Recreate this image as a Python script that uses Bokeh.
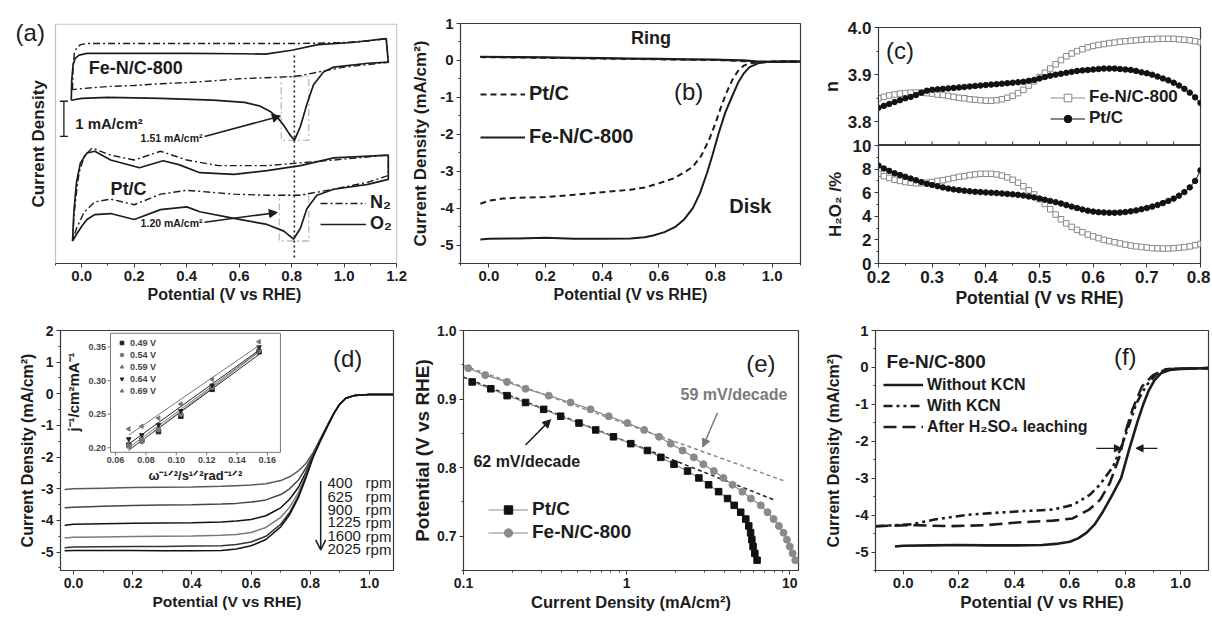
import numpy as np
from bokeh.plotting import figure
from bokeh.layouts import row, column
from bokeh.models import (Range1d, FixedTicker, CustomJSTickFormatter, Label, Title,
                          Arrow, NormalHead, OpenHead, TeeHead, Legend, LegendItem, BoxAnnotation)
from bokeh.core.properties import value
from bokeh.embed import file_html
from bokeh.resources import INLINE

FONT = "Liberation Sans"
INK = "#1c1c1c"
OUT = "#3a3a3a"

# ---------------- (a) cyclic voltammograms (offset, mA/cm^2) ----------------
a_xticks = [0.0, 0.2, 0.4, 0.6, 0.8, 1.0, 1.2]
fe_n2_x = [-0.035, -0.033, -0.028, -0.02, -0.005, 0.02, 0.2, 0.4, 0.6, 0.8, 0.9, 1.0, 1.1, 1.16,
           1.168, 1.1, 1.0, 0.9, 0.85, 0.8, 0.7, 0.6, 0.5, 0.4, 0.3, 0.2, 0.1, 0.0, -0.035]
fe_n2_y = [4.94, 5.64, 5.97, 6.12, 6.22, 6.25, 6.25, 6.25, 6.25, 6.25, 6.26, 6.28, 6.33, 6.39,
           5.72, 5.66, 5.58, 5.44, 5.36, 5.31, 5.28, 5.25, 5.19, 5.14, 5.11, 5.06, 5.03, 4.97, 4.94]
fe_o2_x = [-0.04, -0.038, -0.033, -0.025, -0.01, 0.02, 0.2, 0.4, 0.6, 0.7, 0.8, 0.9, 1.03, 1.16,
           1.168, 1.09, 0.96, 0.921, 0.883, 0.858, 0.833, 0.81, 0.79, 0.77, 0.75, 0.72, 0.68, 0.62,
           0.5, 0.3, 0.1, 0.0, -0.04]
fe_o2_y = [4.64, 5.22, 5.64, 5.83, 5.92, 5.97, 5.97, 5.97, 5.96, 5.95, 6.06, 6.22, 6.28, 6.39,
           5.72, 5.69, 5.58, 5.44, 5.08, 4.53, 3.89, 3.5, 3.69, 3.92, 4.11, 4.31, 4.47, 4.58,
           4.64, 4.69, 4.72, 4.69, 4.64]
pt_n2_x = [-0.035, -0.03, -0.02, -0.01, 0.01, 0.04, 0.11, 0.2, 0.3, 0.4, 0.52, 0.706, 0.83, 0.96, 1.168,
           1.168, 1.09, 0.96, 0.83, 0.706, 0.58, 0.4, 0.3, 0.2, 0.11, 0.05, 0.01, -0.02, -0.035]
pt_n2_y = [0.64, 1.33, 2.03, 2.58, 3.06, 3.28, 3.08, 2.94, 3.19, 2.94, 2.78, 2.78, 2.86, 2.94, 3.08,
           2.5, 2.31, 2.11, 1.94, 1.94, 1.97, 2.08, 1.97, 1.67, 1.83, 1.75, 1.47, 1.0, 0.64]
pt_o2_x = [-0.035, -0.03, -0.02, -0.005, 0.02, 0.05, 0.11, 0.22, 0.31, 0.37, 0.45, 0.58, 0.706, 0.833,
           0.96, 1.168, 1.168, 1.09, 0.96, 0.896, 0.858, 0.833, 0.807, 0.77, 0.706, 0.58, 0.45, 0.4,
           0.3, 0.2, 0.11, 0.05, 0.02, 0.0, -0.02, -0.035]
pt_o2_y = [0.64, 1.47, 2.31, 2.86, 3.14, 3.19, 2.94, 2.72, 2.92, 2.81, 2.58, 2.53, 2.64, 2.78,
           3.0, 3.08, 2.39, 2.25, 2.11, 1.94, 1.56, 1.0, 0.69, 0.92, 1.11, 1.28, 1.47, 1.61,
           1.53, 1.25, 1.42, 1.39, 1.25, 1.06, 0.83, 0.64]

# ---------------- (b) RRDE ----------------
b_xticks = [0.0, 0.2, 0.4, 0.6, 0.8, 1.0]
b_yticks = [-5, -4, -3, -2, -1, 0, 1]
ring_x = [-0.03, 0.1, 0.2, 0.3, 0.4, 0.5, 0.6, 0.7, 0.8, 0.85, 0.9, 0.95, 1.0, 1.05, 1.1]
ring_fe = [0.10, 0.09, 0.08, 0.07, 0.06, 0.05, 0.04, 0.03, 0.02, 0.01, 0.0, -0.03, -0.04, -0.03, -0.03]
ring_pt = [0.09, 0.08, 0.07, 0.06, 0.05, 0.04, 0.03, 0.02, 0.01, 0.0, -0.02, -0.05, -0.04, -0.03, -0.03]
disk_pt_x = [-0.03, 0.0, 0.05, 0.1, 0.2, 0.3, 0.4, 0.5, 0.55, 0.6, 0.65, 0.69, 0.72, 0.75, 0.78, 0.8,
             0.82, 0.84, 0.86, 0.88, 0.9, 0.92, 0.95, 1.0, 1.05, 1.1]
disk_pt_y = [-3.88, -3.8, -3.74, -3.72, -3.7, -3.64, -3.57, -3.5, -3.44, -3.33, -3.2, -3.03, -2.88, -2.58,
             -2.1, -1.7, -1.25, -0.85, -0.52, -0.28, -0.14, -0.08, -0.05, -0.03, -0.03, -0.03]
disk_fe_x = [-0.03, 0.0, 0.1, 0.2, 0.3, 0.4, 0.5, 0.55, 0.58, 0.62, 0.66, 0.69, 0.72, 0.745, 0.77, 0.79,
             0.81, 0.835, 0.86, 0.88, 0.9, 0.92, 0.95, 0.98, 1.02, 1.1]
disk_fe_y = [-4.85, -4.83, -4.82, -4.8, -4.83, -4.83, -4.82, -4.79, -4.74, -4.65, -4.5, -4.3, -4.0, -3.6,
             -3.05, -2.55, -2.0, -1.4, -0.95, -0.6, -0.35, -0.18, -0.08, -0.04, -0.03, -0.03]

# ---------------- (c) n and H2O2 ----------------
c_xticks = [0.2, 0.3, 0.4, 0.5, 0.6, 0.7, 0.8]
n_ticks = [3.8, 3.9, 4.0]
h_ticks = [0, 2, 4, 6, 8, 10]
c_x = [round(0.20 + 0.01 * i, 2) for i in range(61)]
fe_n = [3.850, 3.853, 3.856, 3.858, 3.860, 3.861, 3.862, 3.862, 3.862, 3.861,
        3.860, 3.858, 3.857, 3.855, 3.853, 3.851, 3.850, 3.848, 3.847, 3.846,
        3.845, 3.845, 3.846, 3.848, 3.851, 3.855, 3.861, 3.868, 3.877, 3.886,
        3.895, 3.904, 3.913, 3.922, 3.931, 3.939, 3.945, 3.950, 3.954, 3.958,
        3.961, 3.963, 3.965, 3.967, 3.968, 3.970, 3.971, 3.972, 3.973, 3.974,
        3.975, 3.975, 3.976, 3.976, 3.976, 3.976, 3.975, 3.974, 3.973, 3.971, 3.969]
pt_n = [3.830, 3.834, 3.838, 3.842, 3.846, 3.850, 3.853, 3.857, 3.862, 3.866,
        3.868, 3.869, 3.870, 3.871, 3.872, 3.873, 3.874, 3.875, 3.876, 3.877,
        3.878, 3.879, 3.880, 3.881, 3.882, 3.883, 3.884, 3.885, 3.887, 3.889,
        3.892, 3.895, 3.898, 3.900, 3.902, 3.904, 3.906, 3.908, 3.909, 3.910,
        3.911, 3.912, 3.913, 3.913, 3.913, 3.912, 3.911, 3.910, 3.908, 3.905,
        3.903, 3.900, 3.896, 3.892, 3.888, 3.883, 3.877, 3.870, 3.862, 3.852, 3.840]
fe_h = [7.6, 7.4, 7.25, 7.1, 7.0, 6.9, 6.85, 6.8, 6.8, 6.85,
        6.9, 7.0, 7.05, 7.15, 7.25, 7.35, 7.4, 7.5, 7.55, 7.6,
        7.6, 7.6, 7.55, 7.45, 7.3, 7.1, 6.85, 6.55, 6.2, 5.85,
        5.45, 5.05, 4.6, 4.15, 3.75, 3.4, 3.1, 2.85, 2.65, 2.45,
        2.3, 2.15, 2.0, 1.9, 1.8, 1.7, 1.6, 1.52, 1.45, 1.4,
        1.35, 1.3, 1.28, 1.27, 1.27, 1.3, 1.33, 1.38, 1.45, 1.55, 1.65]
pt_h = [8.3, 8.05, 7.85, 7.65, 7.5, 7.35, 7.2, 7.05, 6.9, 6.75,
        6.65, 6.55, 6.45, 6.35, 6.28, 6.22, 6.17, 6.12, 6.08, 6.05,
        6.02, 6.0, 5.97, 5.93, 5.9, 5.86, 5.82, 5.76, 5.68, 5.6,
        5.5, 5.4, 5.3, 5.2, 5.08, 4.95, 4.82, 4.7, 4.58, 4.48,
        4.4, 4.35, 4.32, 4.3, 4.3, 4.32, 4.36, 4.42, 4.5, 4.6,
        4.7, 4.82, 4.96, 5.12, 5.3, 5.5, 5.75, 6.05, 6.45, 7.0, 7.9]

# ---------------- (d) rotating speeds ----------------
d_xticks = [0.0, 0.2, 0.4, 0.6, 0.8, 1.0]
d_yticks = [-5, -4, -3, -2, -1, 0, 1, 2]
rpm = ["400", "625", "900", "1225", "1600", "2025"]
rpm_label_y = [-2.81, -3.25, -3.66, -4.06, -4.5, -4.91]
d_x = [-0.03, 0.0, 0.1, 0.2, 0.3, 0.4, 0.5, 0.55, 0.6, 0.65, 0.7, 0.73, 0.76, 0.785, 0.81, 0.835,
       0.86, 0.88, 0.9, 0.92, 0.95, 1.0, 1.08]
d_curves = [
    [-3.02, -3.0, -2.98, -2.96, -2.95, -2.94, -2.92, -2.9, -2.88, -2.84, -2.74, -2.62, -2.43, -2.2, -1.85,
     -1.4, -0.95, -0.6, -0.32, -0.14, -0.05, -0.02, -0.02],
    [-3.6, -3.58, -3.55, -3.53, -3.51, -3.5, -3.48, -3.46, -3.42, -3.35, -3.18, -3.0, -2.72, -2.35, -1.9,
     -1.42, -0.96, -0.6, -0.32, -0.14, -0.05, -0.02, -0.02],
    [-4.15, -4.12, -4.1, -4.09, -4.08, -4.07, -4.05, -4.02, -3.97, -3.85, -3.6, -3.33, -2.95, -2.48, -1.93,
     -1.44, -0.97, -0.61, -0.32, -0.14, -0.05, -0.02, -0.02],
    [-4.55, -4.53, -4.52, -4.51, -4.5, -4.49, -4.47, -4.44, -4.38, -4.22, -3.9, -3.58, -3.12, -2.56, -1.95,
     -1.45, -0.98, -0.61, -0.32, -0.14, -0.05, -0.02, -0.02],
    [-4.86, -4.84, -4.83, -4.82, -4.82, -4.81, -4.8, -4.76, -4.68, -4.5, -4.12, -3.75, -3.22, -2.62, -1.97,
     -1.46, -0.98, -0.61, -0.32, -0.14, -0.05, -0.02, -0.02],
    [-4.96, -4.95, -4.95, -4.95, -4.96, -4.96, -4.95, -4.9, -4.8, -4.6, -4.2, -3.82, -3.27, -2.66, -1.99,
     -1.47, -0.99, -0.62, -0.32, -0.14, -0.05, -0.02, -0.02],
]
d_colors = ["#5a5a5a", "#444444", "#111111", "#7a7a7a", "#333333", "#111111"]
# inset: Koutecky-Levich
kl_x = [0.0687, 0.0773, 0.0883, 0.1030, 0.1236, 0.1545]
kl_labels = ["0.49 V", "0.54 V", "0.59 V", "0.64 V", "0.69 V"]
kl_y = [
    [0.204, 0.211, 0.224, 0.247, 0.287, 0.343],
    [0.202, 0.209, 0.227, 0.250, 0.290, 0.345],
    [0.206, 0.214, 0.230, 0.252, 0.291, 0.347],
    [0.213, 0.219, 0.234, 0.255, 0.293, 0.350],
    [0.228, 0.232, 0.244, 0.265, 0.302, 0.358],
]
kl_markers = ["square", "circle", "triangle", "inverted_triangle", "triangle"]
kl_angles = [0, 0, 0, 0, np.pi / 2]
kl_colors = ["#222222", "#777777", "#777777", "#222222", "#777777"]
inset_xticks = [0.06, 0.08, 0.10, 0.12, 0.14, 0.16]
inset_xlabels = ["0.06", "0.08", "0.10", "0.12", "0.14", "0.16"]
inset_yticks = [0.20, 0.25, 0.30, 0.35]
inset_ylabels = ["0.20", "0.25", "0.30", "0.35"]

# ---------------- (e) Tafel ----------------
e_xticks = [0.1, 1, 10]
e_yticks = [0.7, 0.8, 0.9, 1.0]
tafel_pt_x = [0.113, 0.147, 0.185, 0.24, 0.31, 0.394, 0.51, 0.646, 0.83, 1.06, 1.34, 1.62, 1.95, 2.36,
              2.77, 3.18, 3.66, 4.15, 4.56, 5.0, 5.37, 5.6, 5.75, 5.85, 5.95, 6.1, 6.3]
tafel_pt_y = [0.925, 0.915, 0.905, 0.895, 0.885, 0.875, 0.865, 0.855, 0.845, 0.835, 0.825, 0.815, 0.805,
              0.795, 0.785, 0.775, 0.765, 0.755, 0.745, 0.735, 0.725, 0.715, 0.705, 0.695, 0.685, 0.675, 0.665]
tafel_fe_x = [0.107, 0.136, 0.185, 0.24, 0.333, 0.453, 0.60, 0.776, 1.01, 1.28, 1.58, 1.86, 2.2, 2.58,
              2.95, 3.42, 3.92, 4.45, 5.12, 5.77, 6.64, 7.3, 7.95, 8.57, 9.15, 9.6, 10.0, 10.4, 10.8]
tafel_fe_y = [0.945, 0.935, 0.925, 0.915, 0.905, 0.895, 0.885, 0.875, 0.865, 0.855, 0.845, 0.835, 0.825,
              0.815, 0.805, 0.795, 0.785, 0.775, 0.765, 0.755, 0.745, 0.735, 0.725, 0.715, 0.705, 0.695,
              0.685, 0.675, 0.665]
fit_pt_x, fit_pt_y = [0.1, 8.2], [0.932, 0.752]
fit_fe_x, fit_fe_y = [0.1, 9.4], [0.949, 0.780]

# ---------------- (f) poisoning ----------------
f_xticks = [0.0, 0.2, 0.4, 0.6, 0.8, 1.0]
f_yticks = [-5, -4, -3, -2, -1, 0, 1]
wo_x = [-0.03, 0.0, 0.1, 0.2, 0.3, 0.4, 0.5, 0.55, 0.6, 0.63, 0.66, 0.69, 0.72, 0.75, 0.785, 0.815, 0.845,
        0.865, 0.885, 0.905, 0.93, 0.96, 1.0, 1.05, 1.1]
wo_y = [-4.85, -4.83, -4.82, -4.81, -4.82, -4.82, -4.81, -4.78, -4.72, -4.63, -4.48, -4.25, -3.9, -3.5,
        -3.0, -2.2, -1.45, -1.0, -0.62, -0.35, -0.15, -0.07, -0.04, -0.03, -0.02]
kcn_x = [-0.1, 0.03, 0.113, 0.232, 0.41, 0.54, 0.613, 0.672, 0.708, 0.756, 0.786, 0.815, 0.839, 0.875,
         0.911, 0.946, 1.0, 1.1]
kcn_y = [-4.30, -4.25, -4.12, -3.99, -3.90, -3.85, -3.72, -3.45, -3.18, -2.69, -2.15, -1.53, -0.99, -0.50,
         -0.19, -0.05, -0.03, -0.02]
acid_x = [-0.1, 0.03, 0.17, 0.3, 0.41, 0.54, 0.61, 0.67, 0.71, 0.745, 0.78, 0.8, 0.826, 0.86, 0.9, 0.946,
          1.0, 1.1]
acid_y = [-4.30, -4.27, -4.3, -4.27, -4.2, -4.15, -4.09, -3.85, -3.58, -3.12, -2.4, -1.77, -1.14, -0.52,
          -0.21, -0.05, -0.03, -0.02]


# ---------------- helpers ----------------
FMT1 = "return tick.toFixed(1);"
FMT0 = "return tick.toFixed(0);"


def make_fig(w, h, xr, yr, borders, x_type="linear", x_loc="below", y_loc="left"):
    l, r, t, b = borders
    p = figure(width=w, height=h, x_range=Range1d(*xr), y_range=Range1d(*yr), x_axis_type=x_type,
               output_backend="svg", toolbar_location=None, x_axis_location=x_loc, y_axis_location=y_loc,
               min_border_left=l, min_border_right=r, min_border_top=t, min_border_bottom=b)
    p.xgrid.visible = False
    p.ygrid.visible = False
    p.outline_line_color = OUT
    p.outline_line_width = 1.2
    p.background_fill_color = "white"
    p.border_fill_color = "white"
    return p


def style_axis(ax, label, ticks, minors, code, tick_fs, lab_fs, lab_standoff=2):
    ax.axis_label = label
    ax.ticker = FixedTicker(ticks=ticks, minor_ticks=minors)
    ax.formatter = CustomJSTickFormatter(code=code)
    ax.axis_label_text_font = FONT
    ax.axis_label_text_font_style = "bold"
    ax.axis_label_text_font_size = f"{lab_fs}px"
    ax.axis_label_text_color = INK
    ax.axis_label_standoff = lab_standoff
    ax.major_label_text_font = FONT
    ax.major_label_text_font_style = "bold"
    ax.major_label_text_font_size = f"{tick_fs}px"
    ax.major_label_text_color = INK
    ax.major_label_standoff = 3
    ax.major_tick_out = 4
    ax.major_tick_in = 0
    ax.minor_tick_out = 2
    ax.minor_tick_in = 0
    ax.axis_line_color = OUT
    ax.major_tick_line_color = OUT
    ax.minor_tick_line_color = OUT


def label(p, x, y, text, fs, bold=True, align="left", color=INK, angle=0, baseline="middle"):
    p.add_layout(Label(x=x, y=y, text=text, text_font=FONT, text_font_size=f"{fs}px",
                       text_font_style="bold" if bold else "normal", text_align=align,
                       text_baseline=baseline, text_color=color, angle=angle))


def arrow(p, x0, y0, x1, y1, color=INK, head=8, width=1.5, open_head=False):
    if open_head:
        end = OpenHead(size=head, line_color=color, line_width=width)
    else:
        end = NormalHead(size=head, fill_color=color, line_color=color)
    p.add_layout(Arrow(end=end, x_start=x0, y_start=y0, x_end=x1, y_end=y1,
                       line_color=color, line_width=width))


def add_legend(p, items, loc, fs, gw, lh, sp, standoff=4, color=INK):
    leg = Legend(items=[LegendItem(label=l, renderers=r) for l, r in items], location=loc,
                 label_text_font=FONT, label_text_font_size=f"{fs}px", label_text_font_style="bold",
                 label_text_color=color, glyph_width=gw, glyph_height=lh, label_height=lh, spacing=sp,
                 padding=0, margin=0, border_line_alpha=0, background_fill_alpha=0,
                 label_standoff=standoff)
    p.add_layout(leg)


def minors_between(ticks):
    return [round((a + b) / 2, 4) for a, b in zip(ticks[:-1], ticks[1:])]


DASHDOT = "7 3 2 3"

# ================= (a) =================
# frame extended to the left so that the panel tag and the y title can sit beside the box
fa = make_fig(408, 310, (-0.2905, 1.203), (0, 6.82), (5, 11, 18, 47), y_loc=None)
fa.outline_line_color = None
style_axis(fa.xaxis[0], "", a_xticks, minors_between(a_xticks) + [-0.1], FMT1, 15, 16)
fa.xaxis[0].bounds = (-0.1, 1.2)
fa.add_layout(Title(text="Potential (V vs RHE)", align="left", offset=142, text_font=FONT,
                    text_font_size="16px", text_font_style="bold", text_color=INK, standoff=1), "below")
fa.add_layout(BoxAnnotation(left=-0.1, right=1.2, bottom=0, top=6.8, fill_alpha=0,
                            line_color=OUT, line_width=1.2))
r_fe_n2 = fa.line(fe_n2_x, fe_n2_y, line_dash=DASHDOT, line_width=1.4, color=INK)
r_fe_o2 = fa.line(fe_o2_x, fe_o2_y, line_width=1.7, color=INK)
fa.line(pt_n2_x, pt_n2_y, line_dash=DASHDOT, line_width=1.4, color=INK)
fa.line(pt_o2_x, pt_o2_y, line_width=1.7, color=INK)
fa.add_layout(BoxAnnotation(left=0.76, right=0.865, bottom=3.5, top=5.31, fill_alpha=0,
                            line_color=INK, line_dash=DASHDOT, line_width=1.3))
fa.add_layout(BoxAnnotation(left=0.753, right=0.865, bottom=0.64, top=1.94, fill_alpha=0,
                            line_color=INK, line_dash=DASHDOT, line_width=1.3))
fa.add_layout(Arrow(end=None, x_start=0.81, y_start=0.17, x_end=0.81, y_end=5.92,
                    line_dash="2 3", line_width=1.6, line_color=INK))
fa.add_layout(Arrow(start=TeeHead(size=8, line_width=1.3, line_color=INK),
                    end=TeeHead(size=8, line_width=1.3, line_color=INK),
                    x_start=-0.068, y_start=3.61, x_end=-0.068, y_end=4.61, line_width=1.3, line_color=INK))
label(fa, -0.1 - 17 / 263, 3.4, "Current Density", 17, angle=np.pi / 2, align="center")
label(fa, -0.252, 6.56, "(a)", 24, bold=False)
label(fa, 0.027, 5.56, "Fe-N/C-800", 18)
label(fa, 0.11, 2.11, "Pt/C", 18)
label(fa, -0.025, 3.97, "1 mA/cm²", 15)
label(fa, 0.46, 3.56, "1.51 mA/cm²", 10.5, align="right")
label(fa, 0.46, 1.14, "1.20 mA/cm²", 10.5, align="right")
arrow(fa, 0.468, 3.61, 0.757, 4.19)
arrow(fa, 0.468, 1.17, 0.745, 1.45)
add_legend(fa, [("N₂", [r_fe_n2]), ("O₂", [r_fe_o2])], (315, 29), 18, 46, 20, 0)

# ================= (b) =================
fb = make_fig(410, 310, (-0.1, 1.1), (-5.5, 1), (50, 18, 23, 42))
style_axis(fb.xaxis[0], "Potential (V vs RHE)", b_xticks, minors_between(b_xticks) + [-0.1, 1.1], FMT1, 15, 16)
style_axis(fb.yaxis[0], "Current Density (mA/cm²)", b_yticks, minors_between(b_yticks) + [-5.5], FMT0,
           15, 17, lab_standoff=7)
fb.line(ring_x, ring_pt, line_dash="6 4", line_width=2.0, color=INK)
fb.line(ring_x, ring_fe, line_width=2.2, color=INK)
r_b_pt = fb.line(disk_pt_x, disk_pt_y, line_dash="6 4", line_width=2.0, color=INK)
r_b_fe = fb.line(disk_fe_x, disk_fe_y, line_width=2.0, color=INK)
label(fb, 0.572, 0.61, "Ring", 18, align="center")
label(fb, 0.923, -3.93, "Disk", 20, align="center")
label(fb, 0.705, -0.83, "(b)", 24, bold=False, align="center")
add_legend(fb, [("Pt/C", [r_b_pt]), ("Fe-N/C-800", [r_b_fe])], (20, 115), 20, 45, 22, 20)

# ================= (c) =================
# upper panel (n); the lower panel overlaps it by 8 px (transparent top border) so "10" sits on the seam
fc1 = make_fig(392, 145, (0.2, 0.8), (3.75, 4.0), (50, 10, 27, 0), x_loc=None)
style_axis(fc1.yaxis[0], "n", n_ticks, minors_between(n_ticks), FMT1, 17, 18, lab_standoff=3)
fc2 = make_fig(392, 173, (0.2, 0.8), (0, 10), (50, 10, 8, 47))
fc2.border_fill_color = None
fc2.margin = (-8, 0, 0, 0)
style_axis(fc2.xaxis[0], "Potential (V vs RHE)", c_xticks, minors_between(c_xticks), FMT1, 17, 17.5)
style_axis(fc2.yaxis[0], "H₂O₂ /%", h_ticks, minors_between(h_ticks), FMT0, 17, 17, lab_standoff=5)
c_tick_x = sorted(c_xticks + minors_between(c_xticks))
fc1.segment(x0=c_tick_x, y0=3.75, x1=c_tick_x, y1=3.7585, line_color=OUT, line_width=1)
l_fe_n = fc1.line(c_x, fe_n, line_color="#888888", line_width=1)
s_fe_n = fc1.scatter(c_x, fe_n, marker="square", size=5.5, fill_color="white", line_color="#888888",
                     line_width=1)
l_pt_n = fc1.line(c_x, pt_n, line_color="#111111", line_width=1)
s_pt_n = fc1.scatter(c_x, pt_n, marker="circle", size=5.5, fill_color="#111111", line_color="#111111")
fc2.line(c_x, fe_h, line_color="#888888", line_width=1)
fc2.scatter(c_x, fe_h, marker="square", size=5.5, fill_color="white", line_color="#888888", line_width=1)
fc2.line(c_x, pt_h, line_color="#111111", line_width=1)
fc2.scatter(c_x, pt_h, marker="circle", size=5.5, fill_color="#111111", line_color="#111111")
label(fc1, 0.24, 3.952, "(c)", 24, bold=False, align="center")
add_legend(fc1, [("Fe-N/C-800", [l_fe_n, s_fe_n]), ("Pt/C", [l_pt_n, s_pt_n])], (172, 17), 17, 35, 19, 1)
fc = column(fc1, fc2)

# ================= (d) =================
fd = make_fig(405, 304, (-0.044, 1.081), (-5.58, 2), (60, 12, 15, 39))
style_axis(fd.xaxis[0], "Potential (V vs RHE)", d_xticks, minors_between(d_xticks), FMT1, 14, 15.5)
style_axis(fd.yaxis[0], "Current Density (mA/cm²)", d_yticks, minors_between(d_yticks) + [-5.5], FMT0,
           14, 16)
for ys, col in zip(d_curves, d_colors):
    fd.line(d_x, ys, line_color=col, line_width=1.5)
for name, yy in zip(rpm, rpm_label_y):
    label(fd, 0.858, yy, name, 15, bold=False)
    label(fd, 1.074, yy, "rpm", 15, bold=False, align="right")
arrow(fd, 0.835, -2.75, 0.835, -4.93, head=10, width=1.5, open_head=True)
label(fd, 0.926, 1.13, "(d)", 24, bold=False, align="center")

IX = (0.0567, 0.1686)
IY = (0.1931, 0.3706)
isub = fd.subplot(x_source=Range1d(*IX), y_source=Range1d(*IY), x_target=Range1d(0.125, 0.699),
                  y_target=Range1d(-1.848, 1.913))
isub.quad(left=[IX[0]], right=[IX[1]], bottom=[IY[0]], top=[IY[1]], fill_color="white",
          line_color="#777777", line_width=1)
isub.segment(x0=inset_xticks, y0=IY[0], x1=inset_xticks, y1=IY[0] - 0.0045, line_color="#777777")
isub.segment(x0=IX[0], y0=inset_yticks, x1=IX[0] - 0.002, y1=inset_yticks, line_color="#777777")
isub.text(x=inset_xticks, y=IY[0] - 0.007, text=inset_xlabels, text_align="center", text_baseline="top",
          text_font=value(FONT), text_font_size="9px", text_font_style="bold", text_color="#444444")
isub.text(x=IX[0] - 0.003, y=inset_yticks, text=inset_ylabels, text_align="right", text_baseline="middle",
          text_font=value(FONT), text_font_size="9px", text_font_style="bold", text_color="#444444")
isub.text(x=[0.0324], y=[0.283], text=["j⁻¹/cm²mA⁻¹"], angle=np.pi / 2, text_align="center",
          text_baseline="middle", text_font=value(FONT), text_font_size="15px", text_font_style="bold",
          text_color=INK)
isub.text(x=[0.1126], y=[0.158], text=["ω⁻¹ᐟ²/s¹ᐟ²rad⁻¹ᐟ²"], text_align="center", text_baseline="middle",
          text_font=value(FONT), text_font_size="13px", text_font_style="bold", text_color=INK)
kl_renderers = []
for ys, mk, ang, col in zip(kl_y, kl_markers, kl_angles, kl_colors):
    k, b = np.polyfit(kl_x, ys, 1)
    isub.line([kl_x[0], kl_x[-1]], [k * kl_x[0] + b, k * kl_x[-1] + b], line_color=col, line_width=1)
    kl_renderers.append(isub.scatter(kl_x, ys, marker=mk, angle=ang, size=4.5, fill_color=col,
                                     line_color=col))
add_legend(fd, list(zip(kl_labels, [[r] for r in kl_renderers])), (57, 174), 9, 9, 11, 1,
           color="#444444")

# ================= (e) =================
fe = make_fig(413, 304, (0.1, 11.3), (0.65, 1.0), (58, 20, 20, 41), x_type="log")
e_minor = [0.2, 0.3, 0.4, 0.5, 0.6, 0.7, 0.8, 0.9, 2, 3, 4, 5, 6, 7, 8, 9]
style_axis(fe.xaxis[0], "Current Density (mA/cm²)", e_xticks, e_minor,
           "return tick < 1 ? tick.toFixed(1) : tick.toFixed(0);", 14, 16.5)
style_axis(fe.yaxis[0], "Potential (V vs RHE)", e_yticks, [0.65, 0.75, 0.85, 0.95], FMT1, 14, 19,
           lab_standoff=1)
fe.line(fit_pt_x, fit_pt_y, line_dash="4 3", line_color="#222222", line_width=1.5)
fe.line(fit_fe_x, fit_fe_y, line_dash="4 3", line_color="#8a8a8a", line_width=1.5)
l_e_pt = fe.line(tafel_pt_x, tafel_pt_y, line_color="#8a8a8a", line_width=1.2)
s_e_pt = fe.scatter(tafel_pt_x, tafel_pt_y, marker="square", size=6.5, fill_color="#111111",
                    line_color="#111111")
l_e_fe = fe.line(tafel_fe_x, tafel_fe_y, line_color="#8a8a8a", line_width=1.2)
s_e_fe = fe.scatter(tafel_fe_x, tafel_fe_y, marker="circle", size=7, fill_color="#8a8a8a",
                    line_color="#8a8a8a")
label(fe, 2.14, 0.906, "59 mV/decade", 16, color="#7a7a7a")
label(fe, 0.115, 0.809, "62 mV/decade", 16)
arrow(fe, 3.6, 0.88, 2.93, 0.83, color="#7a7a7a")
arrow(fe, 0.24, 0.833, 0.342, 0.870)
label(fe, 6.64, 0.952, "(e)", 24, bold=False, align="center")
add_legend(fe, [("Pt/C", [l_e_pt, s_e_pt]), ("Fe-N/C-800", [l_e_fe, s_e_fe])], (25, 27), 19, 40, 21, 1)

# ================= (f) =================
ff = make_fig(392, 304, (-0.1, 1.1), (-5.5, 1), (57, 2, 19, 41))
style_axis(ff.xaxis[0], "Potential (V vs RHE)", f_xticks, minors_between(f_xticks) + [-0.1], FMT1, 15, 17)
style_axis(ff.yaxis[0], "Current Density (mA/cm²)", f_yticks, minors_between(f_yticks) + [-5.5], FMT0,
           15, 16, lab_standoff=10)
r_wo = ff.line(wo_x, wo_y, line_width=2.6, color=INK)
r_kcn = ff.line(kcn_x, kcn_y, line_width=2.6, color=INK, line_dash="9 4 3 4 3 4")
r_acid = ff.line(acid_x, acid_y, line_width=2.6, color=INK, line_dash="13 6")
label(ff, -0.06, 0.17, "Fe-N/C-800", 19)
label(ff, 0.80, 0.30, "(f)", 24, bold=False, align="center")
arrow(ff, 0.696, -2.19, 0.786, -2.19, head=7, width=1.3)
arrow(ff, 0.916, -2.19, 0.839, -2.19, head=7, width=1.3)
add_legend(ff, [("Without KCN", [r_wo]), ("With KCN", [r_kcn]), ("After H₂SO₄ leaching", [r_acid])],
           (8, 134), 16, 40, 19, 2)

layout = column(row(fa, fb, fc), row(fd, fe, ff))
open("out.html", "w").write(file_html(layout, INLINE))
